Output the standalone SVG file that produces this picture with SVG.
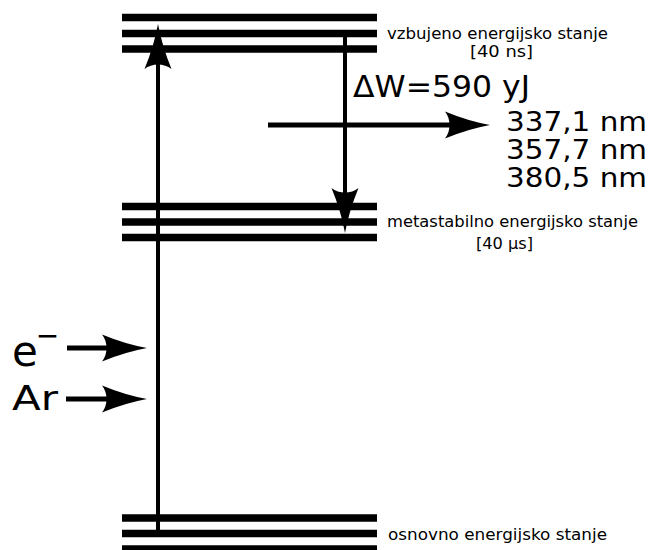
<svg xmlns="http://www.w3.org/2000/svg" xmlns:xlink="http://www.w3.org/1999/xlink" width="655" height="550" viewBox="0 0 655 550">
<style>
.bar{stroke:#000;stroke-width:7.5;fill:none}
.ln{stroke:#000;fill:none}
.t{font-family:"DejaVu Sans","Liberation Sans",sans-serif;fill:#000}
.s{font-size:16.5px}
.b{font-size:26px}
</style>
<defs>
<path id="ah" d="M0,0 Q-22,-4 -45,-13.5 C-39,-6 -39,6 -45,13.5 Q-22,4 0,0 Z" fill="#000"/>
</defs>
<rect width="655" height="550" fill="#fff"/>
<g id="excited">
<line class="bar" x1="122" y1="17.5" x2="377" y2="17.5"/>
<line class="bar" x1="122" y1="33.5" x2="377" y2="33.5"/>
<line class="bar" x1="122" y1="49" x2="377" y2="49"/>
<text class="t s" x="387" y="39" textLength="221" lengthAdjust="spacingAndGlyphs">vzbujeno energijsko stanje</text>
<text class="t s" x="470" y="57" textLength="63" lengthAdjust="spacingAndGlyphs">[40 ns]</text>
</g>
<g id="metastable">
<line class="bar" x1="122" y1="206.5" x2="377" y2="206.5"/>
<line class="bar" x1="122" y1="222" x2="377" y2="222"/>
<line class="bar" x1="122" y1="237.5" x2="377" y2="237.5"/>
<text class="t s" x="387" y="227" textLength="251" lengthAdjust="spacingAndGlyphs">metastabilno energijsko stanje</text>
<text class="t s" x="476" y="249" textLength="57" lengthAdjust="spacingAndGlyphs">[40 μs]</text>
</g>
<g id="ground">
<line class="bar" x1="122" y1="518" x2="377" y2="518"/>
<line class="bar" x1="122" y1="533.5" x2="377" y2="533.5"/>
<line class="bar" x1="122" y1="549" x2="377" y2="549"/>
<text class="t s" x="388" y="540" textLength="219" lengthAdjust="spacingAndGlyphs">osnovno energijsko stanje</text>
</g>
<g id="emission">
<text class="t" x="353" y="97" font-size="30" textLength="177" lengthAdjust="spacingAndGlyphs">ΔW=590 yJ</text>
<text class="t b" x="506" y="131" textLength="141" lengthAdjust="spacingAndGlyphs">337,1 nm</text>
<text class="t b" x="506" y="159" textLength="141" lengthAdjust="spacingAndGlyphs">357,7 nm</text>
<text class="t b" x="506" y="187" textLength="141" lengthAdjust="spacingAndGlyphs">380,5 nm</text>
</g>
<g id="electron">
<text class="t" x="12" y="366" font-size="42">e<tspan font-size="28" dx="-2" dy="-21">−</tspan></text>
</g>
<g id="argon">
<text class="t" x="12" y="410" font-size="34" textLength="46" lengthAdjust="spacingAndGlyphs">Ar</text>
</g>
<g id="connectors">
<line class="ln" stroke-width="4" x1="158" y1="533" x2="158" y2="62"/>
<use xlink:href="#ah" transform="translate(158,24) rotate(-90)"/>
<line class="ln" stroke-width="4" x1="345" y1="37" x2="345" y2="195"/>
<use xlink:href="#ah" transform="translate(345,233) rotate(90)"/>
<line class="ln" stroke-width="5" x1="268" y1="125" x2="452" y2="125"/>
<use xlink:href="#ah" transform="translate(490,125)"/>
<line class="ln" stroke-width="5" x1="67" y1="348" x2="109" y2="348"/>
<use xlink:href="#ah" transform="translate(147,348)"/>
<line class="ln" stroke-width="5" x1="66" y1="399" x2="109" y2="399"/>
<use xlink:href="#ah" transform="translate(147,399)"/>
</g>
</svg>
